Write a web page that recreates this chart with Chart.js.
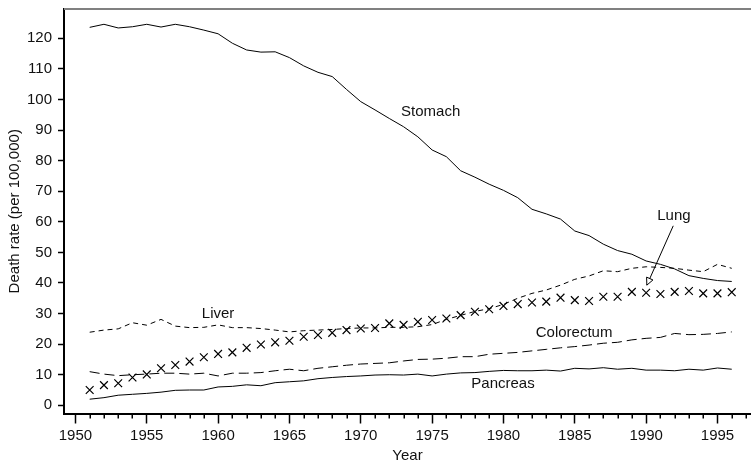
<!DOCTYPE html>
<html lang="en">
<head>
  <meta charset="UTF-8" />
  <title>Cancer death rates</title>
  <script src="https://cdn.jsdelivr.net/npm/chart.js"></script>
  <style>
    html, body { margin: 0; padding: 0; background: #fff }
    #wrap { width: 751px; height: 464px; position: relative }
  </style>
</head>
<body>
  <div id="wrap"><canvas id="c"></canvas></div>

  <script>
    const years = [];
    for (let y = 1951; y <= 1996; y++) years.push(y);

    const stomach = [123.6, 124.6, 123.4, 123.8, 124.6, 123.7, 124.6, 123.8, 122.7, 121.5, 118.4, 116.2, 115.5, 115.6, 113.7,
      111.0, 108.9, 107.5, 103.3, 99.3, 96.6, 93.8, 91.1, 87.8, 83.5, 81.3, 76.7, 74.6, 72.3, 70.3,
      67.9, 64.1, 62.6, 60.9, 57.0, 55.5, 52.7, 50.6, 49.4, 47.2, 46.1, 44.6, 42.4, 41.5, 40.8, 40.5];
    const liver = [23.9, 24.6, 25.0, 27.0, 26.2, 28.1, 25.9, 25.4, 25.5, 26.3, 25.4, 25.4, 25.1, 24.6, 24.0,
      24.4, 24.6, 24.8, 25.1, 25.3, 25.3, 25.5, 25.5, 25.7, 26.4, 28.1, 29.4, 30.7, 31.6, 33.0,
      35.0, 36.6, 37.7, 39.3, 41.2, 42.3, 44.0, 43.7, 44.8, 45.3, 45.1, 44.8, 44.2, 43.7, 46.1, 44.8];
    const lung = [5.0, 6.6, 7.2, 9.1, 10.1, 12.1, 13.2, 14.3, 15.7, 16.8, 17.3, 18.8, 19.9, 20.6, 21.1,
      22.4, 23.0, 23.7, 24.6, 25.1, 25.3, 26.8, 26.3, 27.3, 27.9, 28.4, 29.5, 30.6, 31.4, 32.5,
      33.1, 33.6, 33.9, 35.2, 34.4, 34.1, 35.5, 35.5, 37.1, 36.8, 36.4, 37.1, 37.4, 36.6, 36.6, 37.0];
    const colorectum = [11.0, 10.2, 9.7, 10.0, 10.2, 10.5, 10.5, 10.2, 10.5, 9.6, 10.5, 10.5, 10.7, 11.3, 11.8,
      11.3, 12.1, 12.6, 13.1, 13.5, 13.7, 13.9, 14.5, 15.0, 15.1, 15.4, 15.9, 15.9, 16.7, 17.0,
      17.3, 17.8, 18.3, 18.8, 19.2, 19.7, 20.3, 20.6, 21.4, 21.9, 22.2, 23.5, 23.1, 23.2, 23.5, 24.0];
    const pancreas = [2.0, 2.5, 3.3, 3.6, 3.9, 4.3, 4.9, 5.0, 5.0, 6.0, 6.2, 6.7, 6.4, 7.4, 7.7,
      8.0, 8.7, 9.1, 9.4, 9.6, 9.9, 10.0, 9.9, 10.2, 9.6, 10.2, 10.6, 10.7, 11.1, 11.4,
      11.3, 11.3, 11.5, 11.2, 12.1, 11.9, 12.3, 11.8, 12.1, 11.5, 11.5, 11.3, 11.8, 11.5, 12.2, 11.8];

    const xTicks = [1950, 1955, 1960, 1965, 1970, 1975, 1980, 1985, 1990, 1995];
    const yTicks = [0, 10, 20, 30, 40, 50, 60, 70, 80, 90, 100, 110, 120];

    // series names written on the plot, placed in data units
    const seriesLabels = [
      { text: 'Stomach', x: 1974.9, y: 95.9 },
      { text: 'Liver', x: 1960.0, y: 30.0 },
      { text: 'Lung', x: 1991.95, y: 61.9 },
      { text: 'Colorectum', x: 1984.95, y: 23.6 },
      { text: 'Pancreas', x: 1979.97, y: 7.0 }
    ];
    const lungArrow = { from: [1991.9, 58.7], to: [1990.05, 39.3] };

    const FONT = "'Liberation Sans', Arial, sans-serif";
    const pts = arr => years.map((yr, i) => ({ x: yr, y: arr[i] }));

    const line = (label, data, dash) => ({
      label, data: pts(data), borderColor: '#000', borderWidth: 1,
      borderDash: dash, pointRadius: 0, tension: 0, fill: false
    });

    const extras = {
      id: 'extras',
      afterDraw(chart) {
        const { ctx, chartArea: a, scales: { x, y } } = chart;
        ctx.save();
        // grey top frame line
        ctx.strokeStyle = '#808080';
        ctx.lineWidth = 2;
        ctx.beginPath();
        ctx.moveTo(a.left, a.top);
        ctx.lineTo(a.right, a.top);
        ctx.stroke();
        // minor year ticks
        ctx.strokeStyle = '#000';
        ctx.lineWidth = 1.5;
        for (let yr = 1950; yr <= 1997; yr++) {
          if (yr % 5 === 0) continue;
          const px = Math.round(x.getPixelForValue(yr)) + 0.25;
          ctx.beginPath();
          ctx.moveTo(px, a.bottom);
          ctx.lineTo(px, a.bottom + 5);
          ctx.stroke();
        }
        // text labels
        ctx.fillStyle = '#111';
        ctx.font = '15px ' + FONT;
        ctx.textAlign = 'center';
        ctx.textBaseline = 'middle';
        for (const l of seriesLabels) {
          ctx.fillText(l.text, x.getPixelForValue(l.x), y.getPixelForValue(l.y));
        }
        // arrow from "Lung" to its series
        const x1 = x.getPixelForValue(lungArrow.from[0]), y1 = y.getPixelForValue(lungArrow.from[1]);
        const x2 = x.getPixelForValue(lungArrow.to[0]), y2 = y.getPixelForValue(lungArrow.to[1]);
        ctx.strokeStyle = '#000';
        ctx.lineWidth = 1;
        ctx.beginPath();
        ctx.moveTo(x1, y1);
        ctx.lineTo(x2, y2);
        ctx.stroke();
        const ang = Math.atan2(y2 - y1, x2 - x1);
        const hl = 8, hw = 0.45;
        ctx.beginPath();
        ctx.moveTo(x2, y2);
        ctx.lineTo(x2 - hl * Math.cos(ang - hw), y2 - hl * Math.sin(ang - hw));
        ctx.lineTo(x2 - hl * Math.cos(ang + hw), y2 - hl * Math.sin(ang + hw));
        ctx.closePath();
        ctx.fillStyle = '#fff';
        ctx.fill();
        ctx.stroke();
        ctx.restore();
      }
    };

    new Chart(document.getElementById('c'), {
      type: 'line',
      data: {
        datasets: [
          line('Stomach', stomach, []),
          line('Liver', liver, [5, 4]),
          {
            label: 'Lung', data: pts(lung), showLine: false,
            pointStyle: 'crossRot', pointRadius: 5.5, borderColor: '#000', borderWidth: 1.2
          },
          line('Colorectum', colorectum, [10, 5]),
          line('Pancreas', pancreas, [])
        ]
      },
      options: {
        responsive: true,
        maintainAspectRatio: false,
        animation: false,
        layout: { autoPadding: false, padding: { top: 9, right: 0, left: 0, bottom: 0 } },
        plugins: { legend: { display: false }, tooltip: { enabled: false } },
        scales: {
          x: {
            type: 'linear',
            min: 1949.2,
            max: 1997.35,
            afterBuildTicks: s => { s.ticks = xTicks.map(v => ({ value: v })); },
            afterFit: s => { s.height = 50.5; s.paddingLeft = 0; s.paddingRight = 0; },
            grid: { drawOnChartArea: false, drawTicks: true, tickLength: 10, tickColor: '#000', tickWidth: 1.5 },
            border: { display: true, color: '#000', width: 2 },
            ticks: { color: '#111', font: { family: FONT, size: 15 }, padding: 3, maxRotation: 0, autoSkip: false,
              callback: v => String(v) },
            title: { display: true, text: 'Year', color: '#111', font: { family: FONT, size: 15 }, padding: { top: 0, bottom: -1 } }
          },
          y: {
            type: 'linear',
            min: -2.68,
            max: 129.6,
            afterBuildTicks: s => { s.ticks = yTicks.map(v => ({ value: v })); },
            afterFit: s => { s.width = 64; s.paddingTop = 0; s.paddingBottom = 0; },
            grid: { drawOnChartArea: false, drawTicks: true, tickLength: 6, tickColor: '#000', tickWidth: 1.5 },
            border: { display: true, color: '#000', width: 2 },
            ticks: { color: '#111', font: { family: FONT, size: 15 }, padding: 6, callback: v => String(v) },
            title: { display: true, text: 'Death rate (per 100,000)', color: '#111', font: { family: FONT, size: 15 }, padding: { top: 6, bottom: 0 } }
          }
        }
      },
      plugins: [extras]
    });
  </script>
</body>
</html>
